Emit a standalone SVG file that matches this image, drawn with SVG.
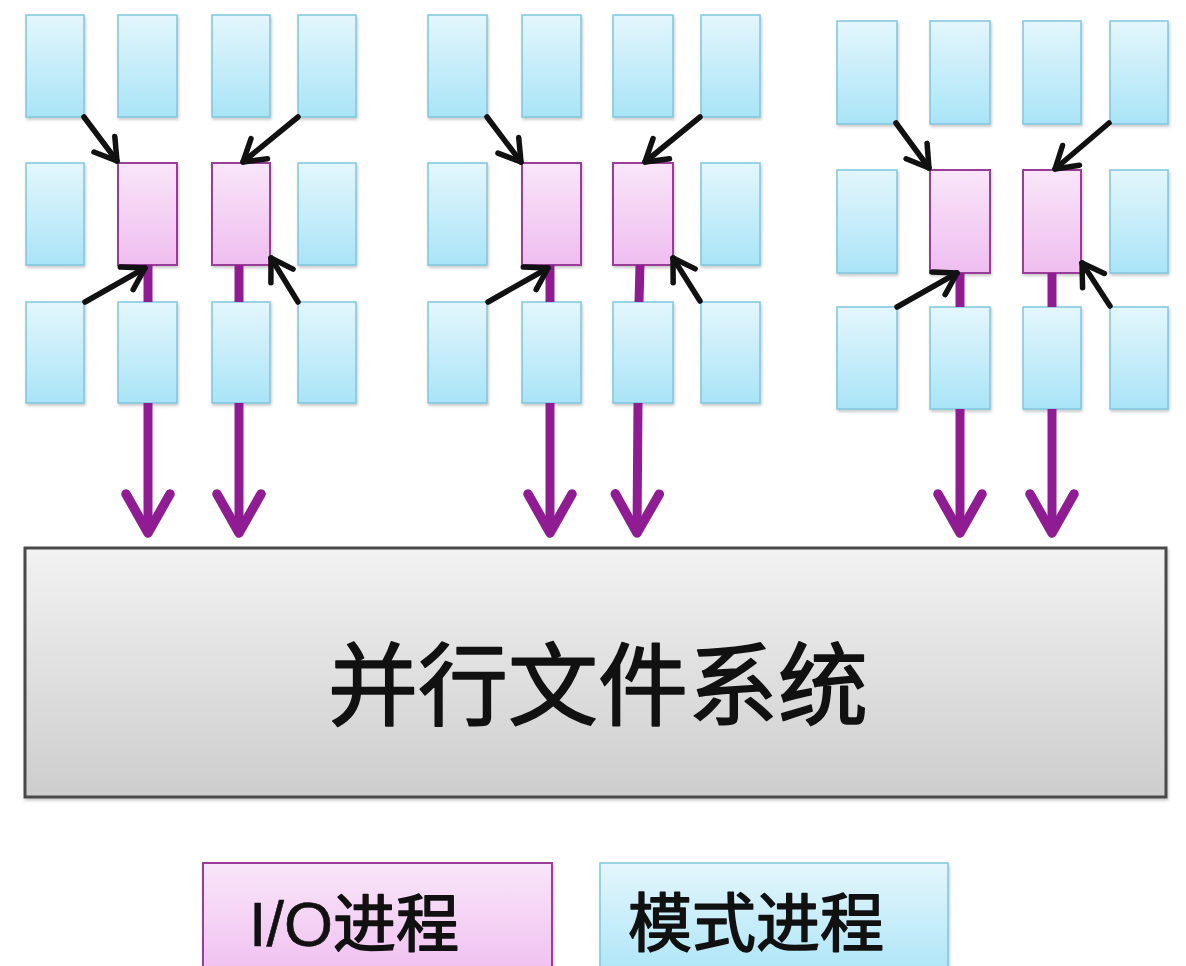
<svg xmlns="http://www.w3.org/2000/svg" width="1186" height="966" viewBox="0 0 1186 966">
<defs>
<linearGradient id="gCyan" x1="0" y1="0" x2="0" y2="1"><stop offset="0" stop-color="#e4f6fc"/><stop offset="1" stop-color="#a9e4f7"/></linearGradient>
<linearGradient id="gPink" x1="0" y1="0" x2="0" y2="1"><stop offset="0" stop-color="#f9e6f9"/><stop offset="1" stop-color="#efbdef"/></linearGradient>
<linearGradient id="gGray" x1="0" y1="0" x2="0" y2="1"><stop offset="0" stop-color="#f2f2f2"/><stop offset="1" stop-color="#cdcdcd"/></linearGradient>
<filter id="sh" x="-10%" y="-10%" width="130%" height="130%"><feDropShadow dx="1" dy="2" stdDeviation="1.5" flood-color="#000" flood-opacity="0.22"/></filter>
<marker id="blk" viewBox="-26 -16 30 32" refX="0" refY="0" markerWidth="30" markerHeight="32" markerUnits="userSpaceOnUse" orient="auto"><path d="M-21,-13 L0,0 L-21,13" fill="none" stroke="#111" stroke-width="5.5" stroke-linecap="round" stroke-linejoin="round"/></marker>
<marker id="pur" viewBox="-48 -30 56 60" refX="0" refY="0" markerWidth="56" markerHeight="60" markerUnits="userSpaceOnUse" orient="auto"><path d="M-39,-22 L0,0 L-39,22" fill="none" stroke="#8f1c92" stroke-width="9.5" stroke-linecap="round" stroke-linejoin="round"/></marker>
</defs>
<style>
.m{fill:url(#gCyan);stroke:#7fc6de;stroke-width:1.5;filter:url(#sh)}
.io{fill:url(#gPink);stroke:#983c98;stroke-width:2;filter:url(#sh)}
.fs{fill:url(#gGray);stroke:#4a4a4a;stroke-width:3;filter:url(#sh)}
.pl{stroke:#8f1c92;stroke-width:9;fill:none}
.bl{stroke:#111;stroke-width:5.5;fill:none;stroke-linecap:round}
.t{font-family:"Liberation Sans","Noto Sans CJK SC",sans-serif;fill:#111;stroke:#111;stroke-width:1.6;stroke-linejoin:round}
</style>
<rect width="1186" height="966" fill="#ffffff"/>

<g id="group1">
<rect id="g1-r1c1" class="m" x="26" y="15" width="58" height="102"/>
<rect id="g1-r1c2" class="m" x="118" y="15" width="59" height="102"/>
<rect id="g1-r1c3" class="m" x="212" y="15" width="58" height="102"/>
<rect id="g1-r1c4" class="m" x="298" y="15" width="58" height="102"/>
<rect id="g1-r2c1" class="m" x="26" y="163" width="58" height="102"/>
<rect id="g1-io1" class="io" x="118" y="163" width="59" height="102"/>
<rect id="g1-io2" class="io" x="212" y="163" width="58" height="102"/>
<rect id="g1-r2c4" class="m" x="298" y="163" width="58" height="102"/>
<rect id="g1-r3c1" class="m" x="26" y="302" width="58" height="101"/>
<rect id="g1-r3c2" class="m" x="118" y="302" width="59" height="101"/>
<rect id="g1-r3c3" class="m" x="212" y="302" width="58" height="101"/>
<rect id="g1-r3c4" class="m" x="298" y="302" width="58" height="101"/>
</g>

<g id="group2" transform="translate(402,0)">
<rect id="g2-r1c1" class="m" x="26" y="15" width="59" height="102"/>
<rect id="g2-r1c2" class="m" x="120" y="15" width="59" height="102"/>
<rect id="g2-r1c3" class="m" x="211" y="15" width="60" height="102"/>
<rect id="g2-r1c4" class="m" x="299" y="15" width="59" height="102"/>
<rect id="g2-r2c1" class="m" x="26" y="163" width="59" height="102"/>
<rect id="g2-io1" class="io" x="120" y="163" width="59" height="102"/>
<rect id="g2-io2" class="io" x="211" y="163" width="60" height="102"/>
<rect id="g2-r2c4" class="m" x="299" y="163" width="59" height="102"/>
<rect id="g2-r3c1" class="m" x="26" y="302" width="59" height="101"/>
<rect id="g2-r3c2" class="m" x="120" y="302" width="59" height="101"/>
<rect id="g2-r3c3" class="m" x="211" y="302" width="60" height="101"/>
<rect id="g2-r3c4" class="m" x="299" y="302" width="59" height="101"/>
</g>

<g id="group3" transform="translate(811,6)">
<rect id="g3-r1c1" class="m" x="26" y="15" width="60" height="103"/>
<rect id="g3-r1c2" class="m" x="119" y="15" width="60" height="103"/>
<rect id="g3-r1c3" class="m" x="212" y="15" width="58" height="103"/>
<rect id="g3-r1c4" class="m" x="299" y="15" width="58" height="103"/>
<rect id="g3-r2c1" class="m" x="26" y="164" width="60" height="103"/>
<rect id="g3-io1" class="io" x="119" y="164" width="60" height="103"/>
<rect id="g3-io2" class="io" x="212" y="164" width="58" height="103"/>
<rect id="g3-r2c4" class="m" x="299" y="164" width="58" height="103"/>
<rect id="g3-r3c1" class="m" x="26" y="301" width="60" height="102"/>
<rect id="g3-r3c2" class="m" x="119" y="301" width="60" height="102"/>
<rect id="g3-r3c3" class="m" x="212" y="301" width="58" height="102"/>
<rect id="g3-r3c4" class="m" x="299" y="301" width="58" height="102"/>
</g>

<g id="filesystem">
<rect class="fs" x="25" y="548" width="1141" height="249"/>
<text class="t" x="598" y="718" font-size="90" text-anchor="middle" stroke-width="2.2">并行文件系统</text>
</g>

<g id="legend-io">
<rect class="io" x="203" y="863" width="349" height="120"/>
<text class="t" x="249" y="946" font-size="63"><tspan stroke-width="0.6">I/O</tspan>进程</text>
</g>
<g id="legend-model">
<rect class="m" x="600" y="863" width="348" height="120"/>
<text class="t" x="628" y="946" font-size="64">模式进程</text>
</g>

<g id="connectors">
<!-- purple: IO to file system -->
<line class="pl" x1="148" y1="265" x2="148" y2="302"/>
<line class="pl" x1="148" y1="403" x2="148" y2="533" marker-end="url(#pur)"/>
<line class="pl" x1="239" y1="265" x2="239" y2="302"/>
<line class="pl" x1="239" y1="403" x2="239" y2="533" marker-end="url(#pur)"/>
<line class="pl" x1="550" y1="265" x2="550" y2="302"/>
<line class="pl" x1="550" y1="403" x2="550" y2="533" marker-end="url(#pur)"/>
<line class="pl" x1="640" y1="265" x2="639" y2="302"/>
<line class="pl" x1="638" y1="403" x2="637" y2="533" marker-end="url(#pur)"/>
<line class="pl" x1="960" y1="273" x2="960" y2="307"/>
<line class="pl" x1="960" y1="409" x2="960" y2="533" marker-end="url(#pur)"/>
<line class="pl" x1="1052" y1="273" x2="1052" y2="307"/>
<line class="pl" x1="1052" y1="409" x2="1052" y2="533" marker-end="url(#pur)"/>
<!-- black: model to IO -->
<line class="bl" x1="84" y1="117" x2="117" y2="161" marker-end="url(#blk)"/>
<line class="bl" x1="298" y1="117" x2="243" y2="162" marker-end="url(#blk)"/>
<line class="bl" x1="85" y1="302" x2="145" y2="268" marker-end="url(#blk)"/>
<line class="bl" x1="298" y1="302" x2="271" y2="258" marker-end="url(#blk)"/>
<line class="bl" x1="487" y1="117" x2="521" y2="162" marker-end="url(#blk)"/>
<line class="bl" x1="700" y1="117" x2="645" y2="162" marker-end="url(#blk)"/>
<line class="bl" x1="488" y1="302" x2="548" y2="268" marker-end="url(#blk)"/>
<line class="bl" x1="700" y1="301" x2="673" y2="258" marker-end="url(#blk)"/>
<line class="bl" x1="896" y1="123" x2="929" y2="168" marker-end="url(#blk)"/>
<line class="bl" x1="1109" y1="123" x2="1055" y2="169" marker-end="url(#blk)"/>
<line class="bl" x1="897" y1="307" x2="957" y2="273" marker-end="url(#blk)"/>
<line class="bl" x1="1110" y1="306" x2="1082" y2="263" marker-end="url(#blk)"/>
</g>
</svg>
